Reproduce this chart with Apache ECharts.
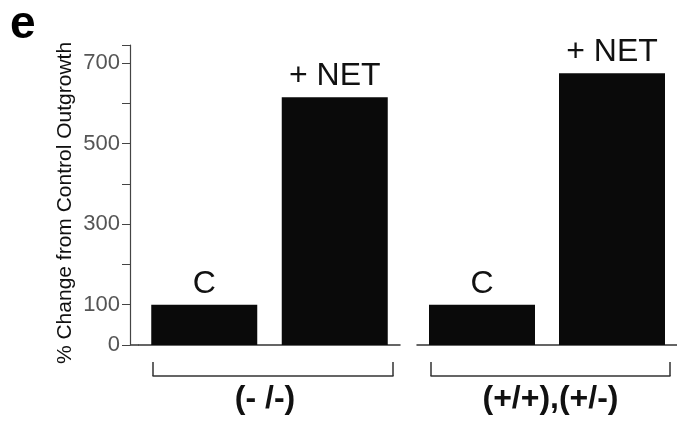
<!DOCTYPE html>
<html>
<head>
<meta charset="utf-8">
<script src="https://cdn.jsdelivr.net/npm/echarts@6/dist/echarts.min.js"></script>
<style>
  html, body { margin: 0; padding: 0; background: #fff; }
  #chart { width: 677px; height: 421px; }
</style>
</head>
<body>
<div id="chart"></div>
<script>
var categories = ['C', '+ NET'];
var groups = ['(- /-)', '(+/+),(+/-)'];
var knockoutValues = [100, 615];
var wildtypeValues = [100, 675];
var yLabels = [0, 100, 300, 500, 700];

var chart = echarts.init(document.getElementById('chart'));

var font = 'Liberation Sans, Arial, sans-serif';
var ink = '#0a0a0a';
var yMax = 745;

function barAxis(gridIndex) {
    return {
        type: 'category',
        gridIndex: gridIndex,
        data: categories,
        axisLine: { lineStyle: { color: '#333', width: 1.5 } },
        axisTick: { show: false },
        axisLabel: { show: false }
    };
}

function bracketAxis(gridIndex, name, pad) {
    return {
        type: 'category',
        gridIndex: gridIndex,
        data: [name],
        axisLine: { lineStyle: { color: '#333', width: 1.5 } },
        axisTick: { show: true, inside: true, length: 14, lineStyle: { color: '#333', width: 1.5 } },
        axisLabel: {
            color: '#111', fontFamily: font, fontWeight: 'bold', fontSize: 32,
            margin: 7, padding: pad
        }
    };
}

function hiddenY(gridIndex) {
    return { type: 'value', gridIndex: gridIndex, min: 0, max: yMax, show: false };
}

function barSeries(axisIndex, values) {
    return {
        type: 'bar',
        xAxisIndex: axisIndex,
        yAxisIndex: axisIndex,
        data: values,
        barWidth: 106,
        itemStyle: { color: ink },
        label: {
            show: true, position: 'top', distance: 5,
            formatter: '{b}', color: '#111', fontFamily: font, fontSize: 32
        }
    };
}

var option = {
    animation: false,
    grid: [
        { left: 139, top: 45, width: 261, height: 300 },
        { left: 417, top: 45, width: 260, height: 300 },
        { left: 153, top: 350, width: 240, height: 26 },
        { left: 431, top: 350, width: 239, height: 26 }
    ],
    xAxis: [
        barAxis(0),
        barAxis(1),
        bracketAxis(2, groups[0], [0, 16, 0, 0]),
        bracketAxis(3, groups[1], [0, 0, 0, 0])
    ],
    yAxis: [
        {
            type: 'value', gridIndex: 0, min: 0, max: yMax, interval: 100, offset: 9,
            splitLine: { show: false },
            axisLine: { show: true, lineStyle: { color: '#444', width: 1.2 } },
            axisTick: { show: true, length: 8, lineStyle: { color: '#444' } },
            axisLabel: {
                color: '#555', fontFamily: font, fontSize: 22, margin: 10,
                formatter: function (v) { return yLabels.indexOf(v) >= 0 ? String(v) : ''; }
            },
            name: '% Change from Control Outgrowth',
            nameLocation: 'middle',
            nameGap: 54,
            nameTextStyle: {
                color: '#111', fontFamily: font, fontSize: 21,
                padding: [0, 16, 0, 0]
            }
        },
        hiddenY(1),
        hiddenY(2),
        hiddenY(3)
    ],
    series: [
        barSeries(0, knockoutValues),
        barSeries(1, wildtypeValues)
    ],
    graphic: [
        {
            type: 'text', left: 10, top: 2,
            style: { text: 'e', fill: '#000', font: 'bold 46px ' + font }
        }
    ]
};

chart.setOption(option);

// extend the baseline back to the offset y axis
var zeroY = chart.convertToPixel({ yAxisIndex: 0 }, 0);
chart.setOption({
    graphic: [
        option.graphic[0],
        {
            type: 'line',
            shape: { x1: 130, y1: zeroY, x2: 139, y2: zeroY },
            style: { stroke: '#333', lineWidth: 1.5 }
        }
    ]
});
</script>
</body>
</html>
